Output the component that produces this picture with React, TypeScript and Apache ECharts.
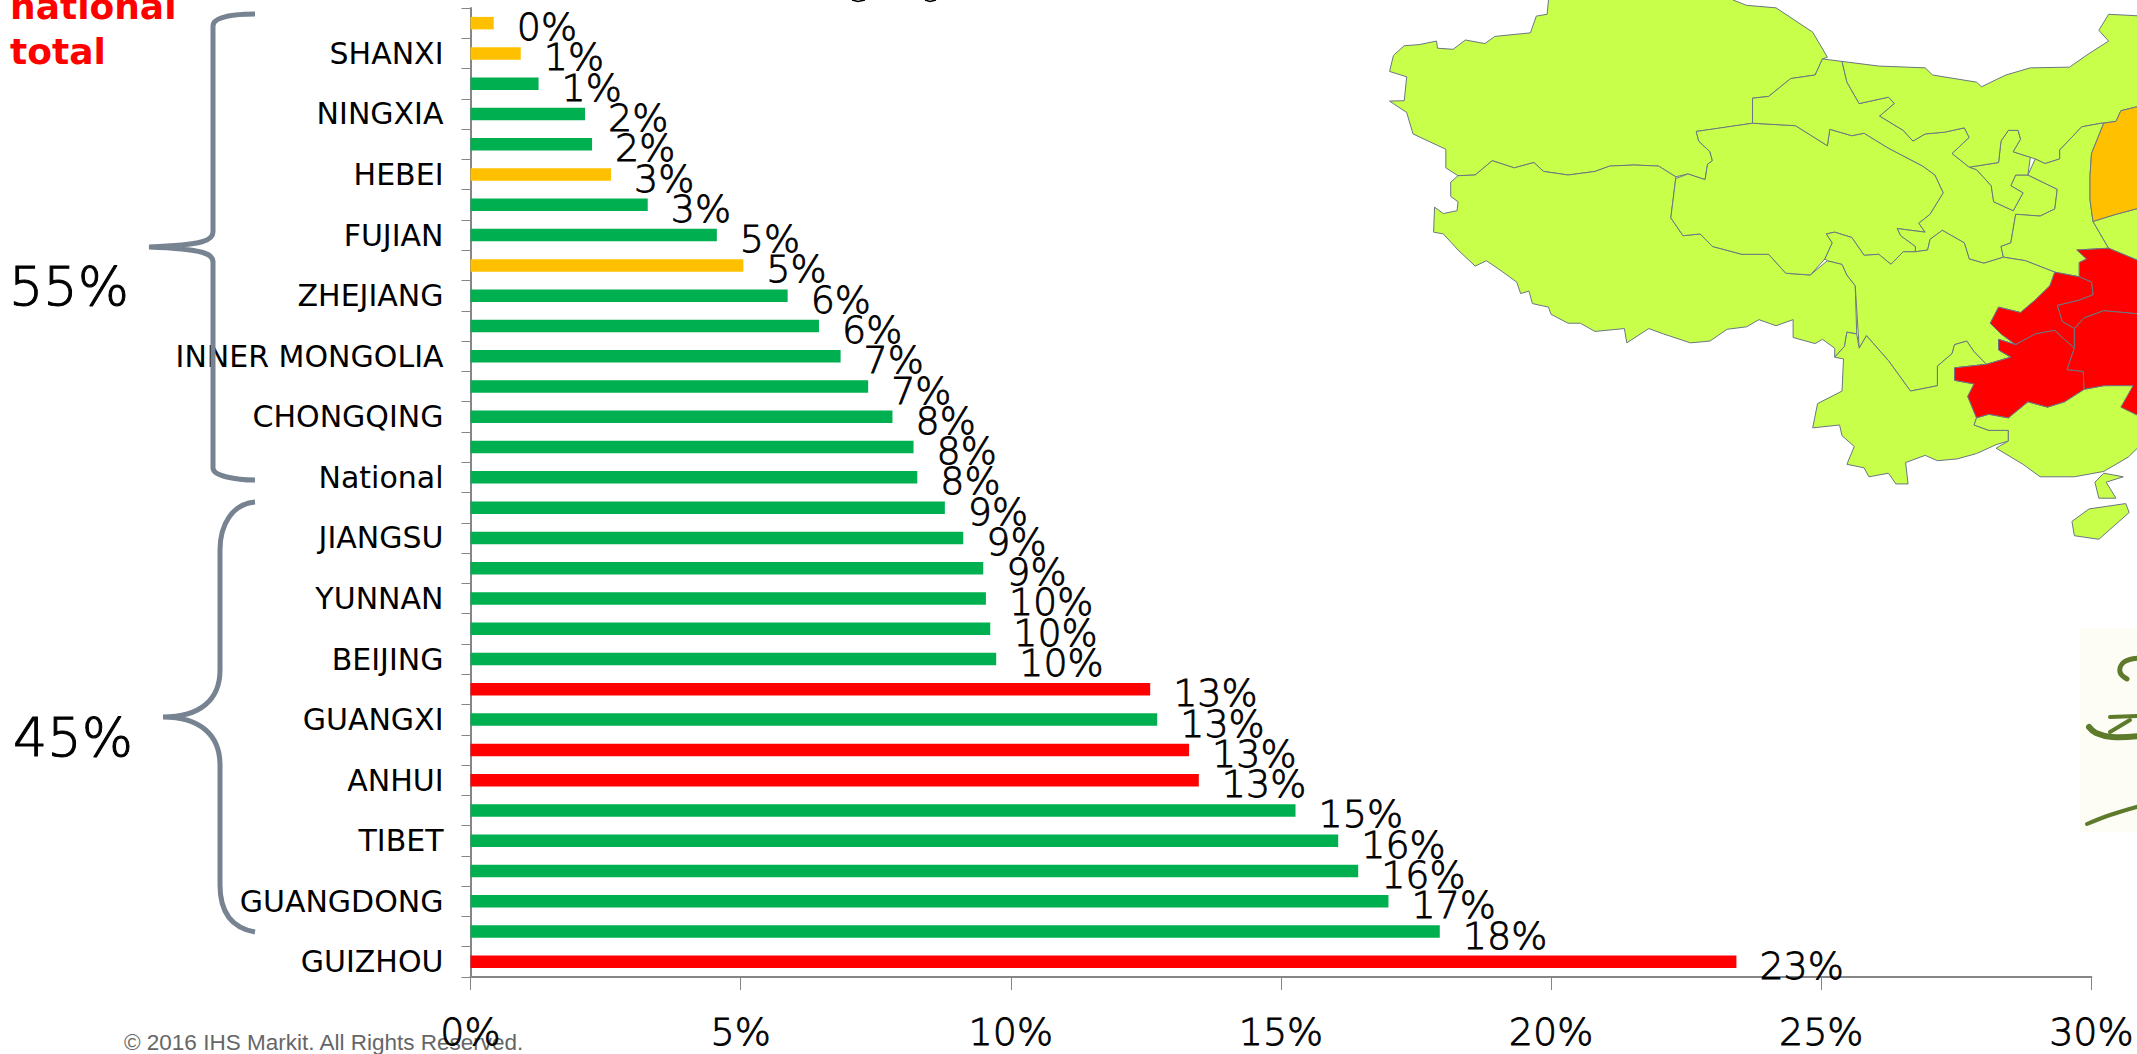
import React, { useEffect, useRef } from "react";
import * as echarts from "echarts";

// Provinces listed top to bottom; every other row carries a visible name.
const categories = [
  "", "SHANXI", "", "NINGXIA", "", "HEBEI", "", "FUJIAN",
  "", "ZHEJIANG", "", "INNER MONGOLIA", "", "CHONGQING", "", "National",
  "", "JIANGSU", "", "YUNNAN", "", "BEIJING", "", "GUANGXI",
  "", "ANHUI", "", "TIBET", "", "GUANGDONG", "", "GUIZHOU",
];
const shareValues = [
  0.43, 0.93, 1.26, 2.12, 2.25, 2.6, 3.28, 4.56,
  5.05, 5.87, 6.45, 6.85, 7.36, 7.81, 8.2, 8.27,
  8.78, 9.12, 9.49, 9.54, 9.62, 9.73, 12.58, 12.71,
  13.3, 13.48, 15.27, 16.06, 16.43, 16.99, 17.94, 23.43,
];
const Y = "#FFC000";
const G = "#00B050";
const R = "#FF0000";
const barColors = [
  Y, Y, G, G, G, Y, G, G,
  Y, G, G, G, G, G, G, G,
  G, G, G, G, G, G, R, G,
  R, R, G, G, G, G, G, R,
];

const FONT = "DejaVu Sans";
const INK = "#000000";
const AXIS = "#868686";
const BRACE = "#778391";
const LAND = "#C8FF4B";
const BORDER = "#6B7680";

// Thin face thickened by a hairline outline, for the large figures.
const figureStroke = { fontWeight: 200, textBorderColor: INK, textBorderWidth: 0.8 };

// Outlines in a 1568-unit sketch space, converted to page pixels by toPage.
const xinjiang = [[365,0],[362,40],[340,45],[328,92],[255,102],[235,122],[195,112],[170,138],[138,135],[136,115],[100,125],[70,128],[48,155],[40,200],[75,215],[70,282],[40,283],[75,315],[88,375],[155,418],[155,470],[180,492],[215,490],[250,450],[295,470],[335,455],[355,480],[405,490],[460,480],[490,465],[540,462],[590,465],[625,495],[650,487],[685,503],[690,460],[700,450],[695,425],[672,395],[667,368],[720,358],[782,345],[782,275],[815,270],[860,220],[910,210],[925,165],[935,160],[905,90],[850,40],[830,22],[770,15],[742,0],[742,-10],[365,-10]];
const tibet = [[180,492],[165,510],[165,550],[180,565],[178,590],[150,598],[132,580],[130,650],[150,655],[180,700],[215,745],[238,730],[270,760],[300,790],[308,822],[325,815],[332,850],[365,860],[370,880],[405,905],[430,905],[460,928],[520,920],[525,960],[570,920],[600,935],[655,960],[695,955],[730,922],[770,915],[795,895],[830,912],[865,895],[865,945],[910,962],[925,950],[950,975],[950,1000],[970,970],[975,930],[995,935],[992,800],[975,770],[965,740],[935,730],[900,770],[850,765],[815,712],[760,712],[700,690],[675,655],[640,660],[615,610],[625,500],[625,495],[590,465],[540,462],[490,465],[460,480],[405,490],[355,480],[335,455],[295,470],[250,450],[215,490]];
const qinghai = [[667,368],[782,345],[870,352],[935,408],[940,362],[985,380],[1010,373],[1060,415],[1130,465],[1155,490],[1172,540],[1145,600],[1122,625],[1135,650],[1078,640],[1085,660],[1115,690],[1115,705],[1090,705],[1065,740],[1040,712],[1010,715],[985,665],[950,650],[933,655],[945,680],[930,725],[900,770],[850,765],[815,712],[760,712],[700,690],[675,655],[640,660],[615,610],[625,500],[650,487],[685,503],[690,460],[700,450],[695,425],[672,395]];
const gansu = [[782,345],[782,275],[815,270],[860,220],[910,210],[925,165],[965,172],[975,230],[1000,290],[1060,272],[1072,290],[1042,325],[1090,365],[1110,395],[1135,375],[1175,370],[1215,358],[1225,385],[1190,430],[1225,468],[1240,475],[1270,520],[1275,565],[1315,590],[1335,540],[1310,520],[1320,490],[1345,490],[1405,530],[1400,585],[1370,605],[1320,600],[1310,680],[1290,690],[1295,720],[1255,737],[1225,725],[1215,680],[1170,645],[1145,670],[1140,700],[1115,705],[1115,690],[1085,660],[1078,640],[1135,650],[1122,625],[1145,600],[1172,540],[1155,490],[1130,465],[1060,415],[1010,373],[985,380],[940,362],[935,408],[870,352]];
const ningxia = [[1225,468],[1285,455],[1290,395],[1305,365],[1325,365],[1330,390],[1315,425],[1350,440],[1345,490],[1320,490],[1310,520],[1335,540],[1315,590],[1275,565],[1270,520],[1240,475]];
const innerMongolia = [[965,172],[1040,185],[1135,190],[1150,210],[1240,230],[1250,243],[1300,210],[1350,190],[1430,188],[1470,150],[1510,115],[1490,85],[1510,40],[1580,45],[1580,295],[1535,310],[1525,340],[1495,345],[1455,355],[1410,420],[1410,445],[1380,458],[1360,445],[1315,425],[1330,390],[1325,365],[1305,365],[1290,395],[1285,455],[1225,468],[1190,430],[1225,385],[1215,358],[1175,370],[1135,375],[1110,395],[1090,365],[1042,325],[1072,290],[1060,272],[1000,290],[975,230]];
const shaanxi = [[1360,445],[1345,490],[1405,530],[1400,585],[1370,605],[1320,600],[1310,680],[1290,690],[1295,720],[1340,730],[1400,762],[1450,775],[1450,735],[1465,725],[1445,700],[1510,695],[1478,620],[1472,560],[1472,490],[1475,430],[1500,345],[1495,345],[1455,355],[1410,420],[1410,445],[1380,458]];
const henan = [[1478,620],[1510,695],[1580,735],[1580,580],[1525,600]];
const sichuan = [[933,655],[950,650],[985,665],[1010,715],[1040,712],[1065,740],[1090,705],[1115,705],[1140,700],[1145,670],[1170,645],[1215,680],[1225,725],[1255,737],[1295,720],[1340,730],[1400,762],[1390,800],[1360,840],[1330,875],[1285,860],[1268,905],[1290,935],[1320,965],[1285,950],[1285,980],[1310,1000],[1260,1020],[1235,985],[1220,955],[1195,965],[1190,990],[1160,1025],[1160,1080],[1105,1095],[1060,1010],[1015,940],[1000,975],[992,800],[975,770],[965,740],[935,730],[930,725],[945,680]];
const yunnan = [[950,1000],[970,970],[975,930],[995,935],[1000,975],[1015,940],[1060,1010],[1105,1095],[1160,1080],[1160,1025],[1190,990],[1195,965],[1220,955],[1235,985],[1260,1020],[1195,1030],[1195,1065],[1235,1075],[1222,1110],[1240,1170],[1235,1190],[1265,1205],[1305,1205],[1305,1235],[1280,1245],[1240,1270],[1200,1285],[1160,1290],[1135,1275],[1095,1295],[1100,1355],[1075,1355],[1060,1325],[1020,1335],[1010,1310],[975,1300],[990,1250],[965,1220],[960,1190],[905,1198],[915,1130],[965,1095],[968,1005]];
const guangxi = [[1235,1190],[1240,1170],[1265,1160],[1305,1170],[1345,1125],[1385,1140],[1420,1125],[1460,1090],[1500,1080],[1580,1075],[1580,1240],[1550,1280],[1500,1320],[1440,1335],[1370,1335],[1335,1300],[1280,1255],[1305,1235],[1305,1205],[1265,1205]];
const leizhou = [[1500,1325],[1482,1350],[1490,1395],[1525,1395],[1505,1350],[1540,1335]];
const hainan = [[1435,1460],[1470,1425],[1545,1410],[1552,1435],[1490,1510],[1440,1500]];
const shanxiRegion = [[1580,295],[1535,310],[1525,340],[1500,345],[1475,430],[1472,490],[1472,560],[1478,620],[1525,600],[1580,580]];
const hubei = [[1445,700],[1510,695],[1580,735],[1580,880],[1500,870],[1460,890],[1440,920],[1415,900],[1405,855],[1450,840],[1478,825],[1475,790],[1450,775],[1450,735],[1465,725]];
const chongqing = [[1400,762],[1450,775],[1475,790],[1478,825],[1450,840],[1405,855],[1415,900],[1440,920],[1440,975],[1415,945],[1400,925],[1360,935],[1320,965],[1290,935],[1268,905],[1285,860],[1330,875],[1360,840],[1390,800]];
const guizhou = [[1285,950],[1320,965],[1360,935],[1400,925],[1415,945],[1440,975],[1425,1035],[1458,1040],[1460,1090],[1420,1125],[1385,1140],[1345,1125],[1305,1170],[1265,1160],[1240,1170],[1222,1110],[1235,1075],[1195,1065],[1195,1030],[1260,1020],[1310,1000],[1285,980]];
const hunan = [[1440,920],[1460,890],[1500,870],[1580,880],[1580,1170],[1535,1140],[1560,1080],[1500,1080],[1460,1090],[1458,1040],[1425,1035],[1440,975]];

const greenLand = [xinjiang, tibet, qinghai, gansu, ningxia, innerMongolia, shaanxi, henan, sichuan, yunnan, guangxi, leizhou, hainan];
const redLand = [hubei, chongqing, guizhou, hunan];
const orangeLand = [shanxiRegion];

const toPage = (pts: number[][]) =>
  pts.map(([x, y]) => [1370 + (x * 767) / 1568, (y * 560) / 1568]);

const region = (pts: number[][], fill: string) => ({
  type: "polygon",
  shape: { points: toPage(pts) },
  style: { fill, stroke: BORDER, lineWidth: 1 },
  z: 1,
  silent: true,
});

echarts.graphic.registerShape(
  "upperBrace",
  echarts.graphic.extendPath(
    "M255 14 C236 14 213 16 213 26 L213 232 C213 240 205 245 149 247 C205 249 213 254 213 262 L213 468 C213 476 236 480 255 480",
    {}
  )
);
echarts.graphic.registerShape(
  "lowerBrace",
  echarts.graphic.extendPath(
    "M255 502 C232 504 220 525 220 550 L220 670 C220 700 200 717 163 717 C200 717 220 735 220 765 L220 885 C220 912 232 928 255 932",
    {}
  )
);

const sprig = (points: number[][], lineWidth: number) => ({
  type: "polyline",
  shape: { points, smooth: 0.4 },
  style: { stroke: "#5E7B2C", lineWidth, fill: "none", lineCap: "round" },
  z: 2,
  silent: true,
});

export default function App() {
  const ref = useRef<HTMLDivElement>(null);

  useEffect(() => {
    document.body.style.margin = "0";
    const chart = echarts.init(ref.current!, undefined, { renderer: "svg" });
    chart.setOption({
      animation: false,
      backgroundColor: "#ffffff",
      grid: { left: 470.5, top: 8, width: 1623, height: 969, containLabel: false },
      xAxis: {
        type: "value",
        min: 0,
        max: 30,
        interval: 5,
        splitLine: { show: false },
        axisLine: { show: true, lineStyle: { color: AXIS, width: 2 } },
        axisTick: { show: true, length: 13, lineStyle: { color: AXIS, width: 1 } },
        axisLabel: {
          margin: 36,
          formatter: "{value}%",
          fontFamily: FONT,
          fontSize: 38,
          color: INK,
          ...figureStroke,
        },
      },
      yAxis: {
        type: "category",
        inverse: true,
        data: categories,
        axisLine: { show: true, lineStyle: { color: AXIS, width: 2 } },
        axisTick: { show: true, interval: 0, length: 9, lineStyle: { color: AXIS, width: 1 } },
        axisLabel: {
          interval: 0,
          margin: 27,
          fontFamily: FONT,
          fontSize: 30,
          fontWeight: "normal",
          color: INK,
        },
      },
      series: [
        {
          type: "bar",
          barWidth: 12.5,
          data: shareValues.map((value, i) => ({
            value,
            itemStyle: { color: barColors[i] },
          })),
          label: {
            show: true,
            position: "right",
            distance: 23,
            offset: [0, 4],
            formatter: (p: any) => `${Math.round(p.value)}%`,
            fontFamily: FONT,
            fontSize: 38,
            color: INK,
            ...figureStroke,
          },
        },
      ],
      graphic: {
        elements: [
          ...greenLand.map((r) => region(r, LAND)),
          ...redLand.map((r) => region(r, R)),
          ...orangeLand.map((r) => region(r, Y)),
          {
            type: "rect",
            shape: { x: 2080, y: 628, width: 60, height: 204 },
            style: { fill: "#FDFDF6" },
            z: 1,
            silent: true,
          },
          sprig([[2140, 658], [2124, 662], [2120, 672], [2127, 679]], 5),
          sprig([[2089, 727], [2096, 733], [2112, 737], [2140, 736]], 6),
          sprig([[2110, 717], [2140, 716]], 4),
          sprig([[2110, 732], [2130, 720]], 4),
          sprig([[2087, 824], [2110, 815], [2140, 806]], 4),
          {
            type: "upperBrace",
            style: { stroke: BRACE, lineWidth: 5, fill: "none" },
            z: 10,
            silent: true,
          },
          {
            type: "lowerBrace",
            style: { stroke: BRACE, lineWidth: 5, fill: "none" },
            z: 10,
            silent: true,
          },
          {
            type: "text",
            x: 10,
            y: 6,
            style: {
              text: "national",
              fontFamily: FONT,
              fontSize: 36,
              fontWeight: "bold",
              fill: R,
              verticalAlign: "middle",
            },
            z: 10,
          },
          {
            type: "text",
            x: 10,
            y: 51,
            style: {
              text: "total",
              fontFamily: FONT,
              fontSize: 36,
              fontWeight: "bold",
              fill: R,
              verticalAlign: "middle",
            },
            z: 10,
          },
          {
            type: "text",
            x: 9,
            y: 286,
            style: { text: "55%", fontFamily: FONT, fontSize: 54, fontWeight: 200, fill: INK, stroke: INK, lineWidth: 1, verticalAlign: "middle" },
            z: 10,
          },
          {
            type: "text",
            x: 13,
            y: 737,
            style: { text: "45%", fontFamily: FONT, fontSize: 54, fontWeight: 200, fill: INK, stroke: INK, lineWidth: 1, verticalAlign: "middle" },
            z: 10,
          },
          {
            type: "text",
            x: 124,
            y: 1042,
            style: {
              text: "© 2016 IHS Markit. All Rights Reserved.",
              fontFamily: "Liberation Sans",
              fontSize: 22.5,
              fill: "#666666",
              verticalAlign: "middle",
            },
            z: -1,
          },
          {
            type: "polyline",
            shape: { points: [[852, 0], [858, 1.5], [865, 0]] },
            style: { stroke: INK, lineWidth: 1.5, fill: "none" },
            silent: true,
          },
          {
            type: "polyline",
            shape: { points: [[925, 0], [930, 1.5], [936, 0]] },
            style: { stroke: INK, lineWidth: 1.5, fill: "none" },
            silent: true,
          },
        ],
      },
    });
    return () => chart.dispose();
  }, []);

  return <div ref={ref} style={{ position: "fixed", left: 0, top: 0, width: 2137, height: 1054 }} />;
}
